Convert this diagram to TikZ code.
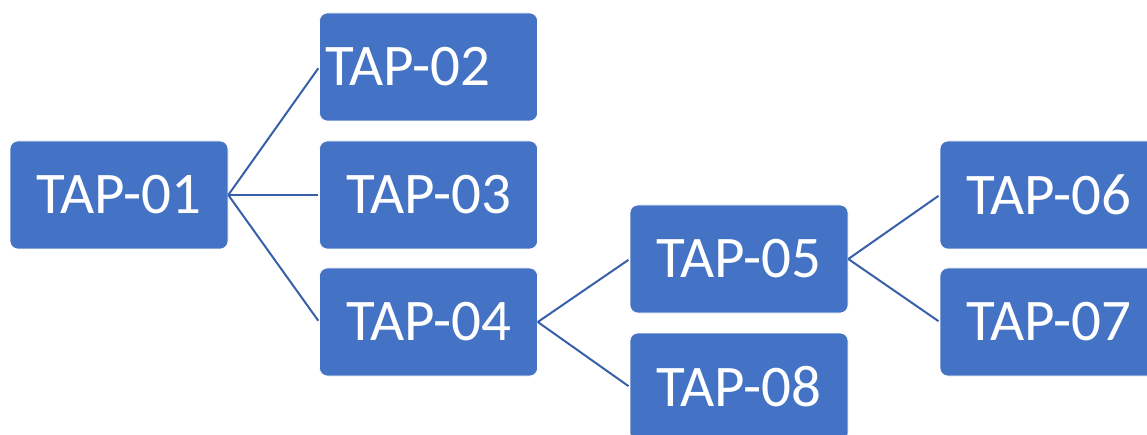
\documentclass[tikz,border=0pt]{standalone}
\usepackage{fontspec}
\setmainfont{Carlito}
\definecolor{boxblue}{HTML}{4472C4}
\definecolor{linkblue}{HTML}{3760A8}
\begin{document}
\begin{tikzpicture}[x=1pt,y=-1pt,
  tap/.style={rectangle, rounded corners=8pt, fill=boxblue, draw=white, line width=0.6pt,
    minimum width=218pt, minimum height=108pt, inner sep=0pt,
    text=white, font=\fontsize{59}{62}\selectfont},
  link/.style={draw=linkblue, line width=2pt, shorten >=1.5pt}]
\useasboundingbox (0,0) rectangle (1147,435);
\clip (0,0) rectangle (1147,435);

% level 1
\node[tap] (t01) at (119,195) {\raisebox{1.5pt}{TAP-01}};
% level 2
\node[tap, text width=206pt, inner xsep=6pt, align=left] (t02) at (428.5,67) {\raisebox{1.5pt}{TAP-02}};
\node[tap] (t03) at (428.5,195) {\raisebox{1.5pt}{TAP-03}};
\node[tap] (t04) at (428.5,322) {\raisebox{1.5pt}{TAP-04}};
% level 3
\node[tap] (t05) at (739,259) {\raisebox{1.5pt}{TAP-05}};
\node[tap] (t08) at (739,387) {\raisebox{1.5pt}{TAP-08}};
% level 4
\node[tap] (t06) at (1049,195) {\raisebox{1.5pt}{TAP-06}};
\node[tap] (t07) at (1049,322) {\raisebox{1.5pt}{TAP-07}};

% branches
\draw[link] (t01.east) -- (t02.west);
\draw[link] (t01.east) -- (t03.west);
\draw[link] (t01.east) -- (t04.west);
\draw[link] (t04.east) -- (t05.west);
\draw[link] (t04.east) -- (t08.west);
\draw[link] (t05.east) -- (t06.west);
\draw[link] (t05.east) -- (t07.west);
\end{tikzpicture}
\end{document}
